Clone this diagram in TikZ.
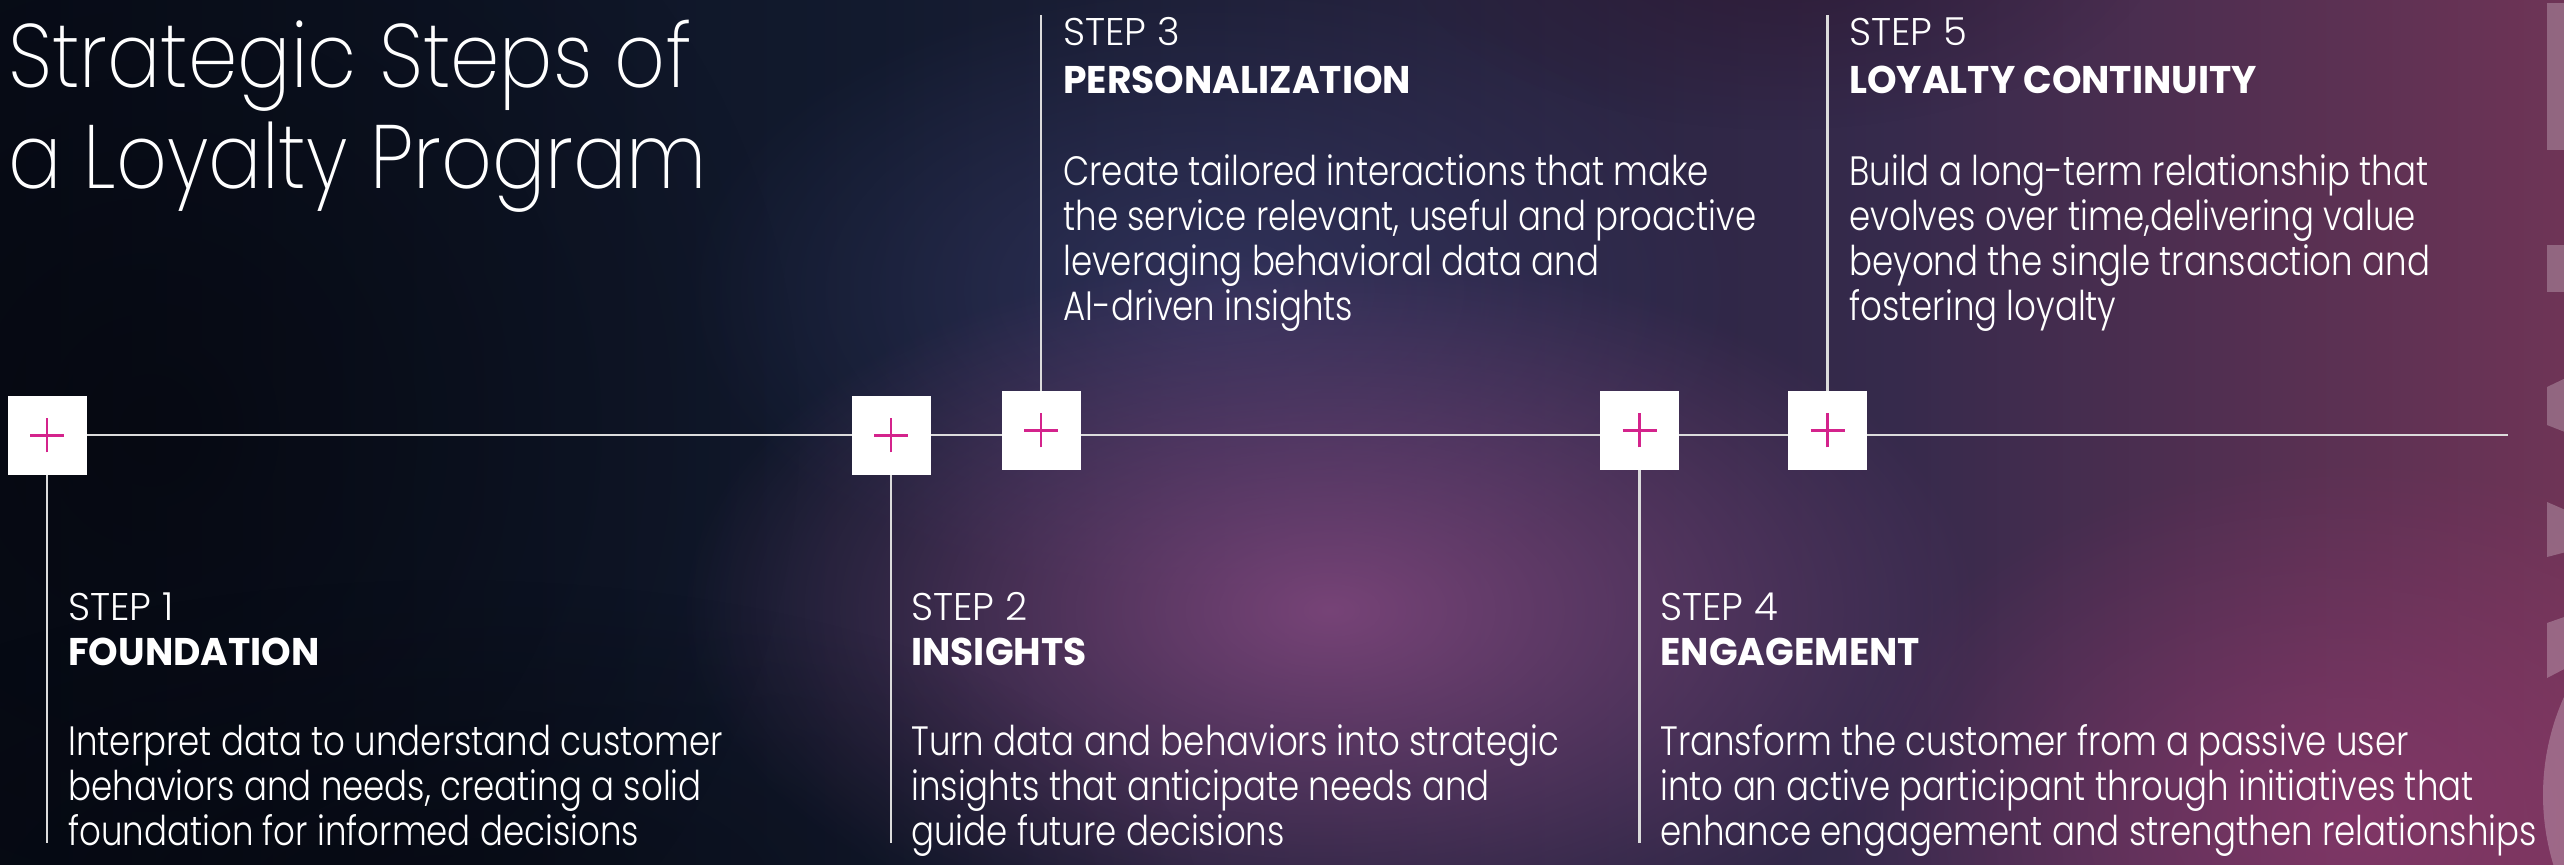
\documentclass[tikz,border=0pt]{standalone}
\usepackage{fontspec}
\usetikzlibrary{fadings}

% Typefaces: a light geometric sans for text, a bold cut for the step names
\IfFontExistsTF{Poppins Light}
  {\newfontfamily\lightfont{Poppins Light}[FakeStretch=0.83]
   \newfontfamily\numfont{Poppins Light}[FakeStretch=1.0]}
  {\newfontfamily\lightfont{Poppins}[FakeStretch=0.83]
   \newfontfamily\numfont{Poppins}[FakeStretch=1.0]}
\IfFontExistsTF{Poppins ExtraLight}
  {\newfontfamily\titlefont{Poppins ExtraLight}[FakeStretch=0.88]}
  {\newfontfamily\titlefont{Poppins Light}[FakeStretch=0.88]}
\IfFontExistsTF{Poppins Bold}
  {\newfontfamily\headfont{Poppins Bold}[FakeStretch=0.975]}
  {\newfontfamily\headfont{Poppins}[FakeStretch=0.975,FakeBold=2]}

% Palette
\definecolor{bgA}{HTML}{020409}
\definecolor{bgB}{HTML}{060A14}
\definecolor{bgC}{HTML}{121A2E}
\definecolor{bgD}{HTML}{362A4C}
\definecolor{bgE}{HTML}{84385A}
\definecolor{bgF}{HTML}{A8475F}
\definecolor{glowPurple}{HTML}{8C4C86}
\definecolor{glowBlue}{HTML}{3C3E70}
\definecolor{glowMaroon}{HTML}{2A0F25}
\definecolor{glowMagenta}{HTML}{A33D7A}
\definecolor{shadowInk}{HTML}{020308}
\definecolor{linegrey}{HTML}{DCDCDC}
\definecolor{plusmagenta}{HTML}{D4238C}

\pgfdeclarehorizontalshading{bgbase}{100bp}{%
  color(0bp)=(bgA); color(20bp)=(bgB); color(42bp)=(bgC);
  color(62bp)=(bgD); color(80bp)=(bgE); color(100bp)=(bgF)}
\tikzfading[name=glow, inner color=transparent!0, outer color=transparent!100]

\newcommand{\linesof}[1]{\begin{tabular}[t]{@{}l@{}}#1\end{tabular}}

\tikzset{
  stepnum/.style={anchor=base west, inner sep=0pt, text=white,
    font=\numfont\fontsize{19.3}{22}\selectfont},
  stephead/.style={anchor=base west, inner sep=0pt, text=white,
    font=\headfont\fontsize{19.3}{22}\selectfont},
  stepdesc/.style={anchor=base west, inner sep=0pt, text=white,
    font=\lightfont\fontsize{20.5}{22.5}\selectfont},
  titletext/.style={anchor=base west, inner sep=0pt, text=white,
    font=\titlefont\fontsize{45}{50.5}\selectfont},
  plusmark/.style={draw=plusmagenta, line width=1.25pt},
  plusbox/.style={rectangle, fill=white, minimum size=39.5pt, inner sep=0pt,
    path picture={
      \draw[plusmark] ([xshift=-8.5pt]path picture bounding box.center)
                   -- ([xshift=8.5pt]path picture bounding box.center);
      \draw[plusmark] ([yshift=-8.5pt]path picture bounding box.center)
                   -- ([yshift=8.5pt]path picture bounding box.center);}},
  timeline/.style={draw=linegrey, line width=1pt},
  stemline/.style={draw=linegrey, line width=1.2pt},
  glowspot/.style={path fading=glow},
}

\begin{document}
\begin{tikzpicture}[x=0.5pt, y=-0.5pt]
  % canvas and layered background
  \useasboundingbox (0,0) rectangle (2564,865);
  \begin{scope}
    \clip (0,0) rectangle (2564,865);
    \shade[shading=bgbase] (0,0) rectangle (2564,865);
    \fill[shadowInk, opacity=0.5, glowspot] (150,430) ellipse [x radius=650, y radius=700];
    \fill[glowBlue, opacity=0.6, glowspot] (1220,290) ellipse [x radius=540, y radius=310];
    \fill[glowPurple, opacity=0.8, glowspot] (1330,610) ellipse [x radius=650, y radius=360];
    \fill[glowMaroon, opacity=0.5, glowspot] (1780,-60) ellipse [x radius=380, y radius=190];
    \fill[glowMagenta, opacity=0.5, glowspot] (2350,820) ellipse [x radius=520, y radius=360];
    \fill[shadowInk, opacity=0.5, glowspot] (450,900) ellipse [x radius=750, y radius=320];
    % large pale lettering running off the right edge
    \fill[white, opacity=0.25] (2547,3) rectangle (2570,150);
    \fill[white, opacity=0.25] (2547,245) rectangle (2570,292);
    \fill[white, opacity=0.25] (2547,387) -- (2570,376) -- (2570,434) -- (2547,425) -- cycle;
    \fill[white, opacity=0.25] (2547,502) -- (2570,512) -- (2570,551) -- (2547,557) -- cycle;
    \fill[white, opacity=0.25] (2547,623) -- (2570,615) -- (2570,666) -- (2547,678) -- cycle;
    \fill[white, opacity=0.25] (2782,795) circle [radius=239];
  \end{scope}

  % title
  \node[titletext] (title) at (8,88) {\linesof{Strategic Steps of\\a Loyalty Program}};

  % timeline ends and stem ends
  \coordinate (tlstart) at (47,435);
  \coordinate (tlend) at (2508,435);
  \coordinate (e1) at (47,843);
  \coordinate (e2) at (891,843);
  \coordinate (e3) at (1041,15);
  \coordinate (e4) at (1639.5,843);
  \coordinate (e5) at (1827.5,15);

  \draw[timeline] (tlstart) -- (tlend);

  % step markers
  \node[plusbox] (b1) at (47,435.5) {};
  \node[plusbox] (b2) at (891,435.5) {};
  \node[plusbox] (b3) at (1041,430.5) {};
  \node[plusbox] (b4) at (1639.5,430.5) {};
  \node[plusbox] (b5) at (1827.5,430.5) {};

  \draw[stemline] (b1) -- (e1);
  \draw[stemline] (b2) -- (e2);
  \draw[stemline] (b3) -- (e3);
  \draw[stemline] (b4) -- (e4);
  \draw[stemline] (b5) -- (e5);

  % step 1
  \node[stepnum] (s1num) at (68,620) {STEP 1};
  \node[stephead] (s1head) at (68,665) {FOUNDATION};
  \node[stepdesc] (s1desc) at (68,755) {\linesof{Interpret data to understand customer\\behaviors and needs, creating a solid\\foundation for informed decisions}};

  % step 2
  \node[stepnum] (s2num) at (911,620) {STEP 2};
  \node[stephead] (s2head) at (911,665) {INSIGHTS};
  \node[stepdesc] (s2desc) at (911,755) {\linesof{Turn data and behaviors into strategic\\insights that anticipate needs and\\guide future decisions}};

  % step 3
  \node[stepnum] (s3num) at (1063,46) {STEP 3};
  \node[stephead] (s3head) at (1063,94) {PERSONALIZATION};
  \node[stepdesc] (s3desc) at (1063,186) {\linesof{Create tailored interactions that make\\the service relevant, useful and proactive\\leveraging behavioral data and\\AI-driven insights}};

  % step 4
  \node[stepnum] (s4num) at (1660,620) {STEP 4};
  \node[stephead] (s4head) at (1660,665) {ENGAGEMENT};
  \node[stepdesc] (s4desc) at (1660,755) {\linesof{Transform the customer from a passive user\\into an active participant through initiatives that\\enhance engagement and strengthen relationships}};

  % step 5
  \node[stepnum] (s5num) at (1849,46) {STEP 5};
  \node[stephead] (s5head) at (1849,94) {LOYALTY CONTINUITY};
  \node[stepdesc] (s5desc) at (1849,186) {\linesof{Build a long-term relationship that\\evolves over time,delivering value\\beyond the single transaction and\\fostering loyalty}};
\end{tikzpicture}
\end{document}
